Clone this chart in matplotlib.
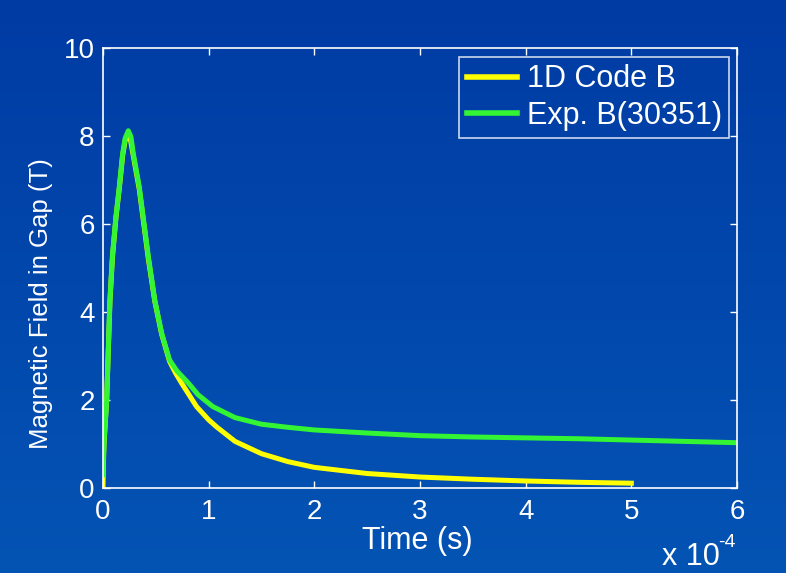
import numpy as np
import matplotlib
matplotlib.use("Agg")
import matplotlib.pyplot as plt
from matplotlib.colors import LinearSegmentedColormap

# ---- data (time in units of 1e-4 s) ----
t_code = [0.0, 0.003, 0.01, 0.035, 0.066, 0.09, 0.123, 0.155, 0.186, 0.21, 0.235, 0.26, 0.287,
          0.343, 0.38, 0.43, 0.49, 0.555, 0.63, 0.69, 0.745, 0.886, 1.0, 1.075, 1.25, 1.5, 1.75,
          2.0, 2.5, 3.0, 3.5, 4.0, 4.5, 5.0]
b_code = [0.0, 0.45, 1.0, 2.0, 4.25, 5.25, 6.15, 6.82, 7.55, 7.9, 8.02, 7.92, 7.55,
          6.8, 6.12, 5.2, 4.25, 3.5, 2.88, 2.6, 2.38, 1.85, 1.55, 1.39, 1.06, 0.78, 0.6,
          0.47, 0.33, 0.25, 0.2, 0.16, 0.13, 0.11]

t_exp = [0.0, 0.003, 0.01, 0.035, 0.066, 0.09, 0.123, 0.155, 0.186, 0.21, 0.24, 0.265, 0.287,
         0.343, 0.38, 0.43, 0.49, 0.555, 0.63, 0.7, 0.81, 0.9, 1.04, 1.25, 1.5, 1.75, 2.0,
         2.5, 3.0, 3.5, 4.0, 4.5, 5.0, 5.5, 6.0]
b_exp = [0.3, 0.6, 1.05, 2.0, 4.27, 5.3, 6.17, 6.85, 7.6, 7.95, 8.12, 7.98, 7.6,
         6.85, 6.17, 5.25, 4.27, 3.52, 2.91, 2.66, 2.38, 2.12, 1.85, 1.6, 1.45, 1.38, 1.32,
         1.25, 1.19, 1.16, 1.14, 1.12, 1.09, 1.06, 1.03]

xticks = [0, 1, 2, 3, 4, 5, 6]
yticks = [0, 2, 4, 6, 8, 10]

plt.rcParams['font.family'] = ['Liberation Sans', 'DejaVu Sans']

fig = plt.figure(figsize=(7.86, 5.73), dpi=100)

# background gradient
bg = fig.add_axes([0, 0, 1, 1], zorder=-10)
cmap = LinearSegmentedColormap.from_list('bg', ['#003ba4', '#0454b4'])
grad = np.linspace(0, 1, 256).reshape(-1, 1)
bg.imshow(grad, aspect='auto', cmap=cmap, extent=[0, 1, 0, 1], origin='upper')
bg.set_axis_off()

ax = fig.add_axes([0.131, 0.1483, 0.8067, 0.7679])
ax.patch.set_alpha(0)

ax.plot(t_code, b_code, color='#ffff00', lw=3.6, label='1D Code B')
ax.plot(t_exp, b_exp, color='#33f533', lw=3.6, label='Exp. B(30351)')

ax.set_xlim(0, 6)
ax.set_ylim(0, 10)
ax.set_xticks(xticks)
ax.set_yticks(yticks)
ax.tick_params(direction='in', length=5, width=1, colors='white', labelsize=20,
               top=True, right=True, pad=6)
ax.tick_params(axis='x', pad=8)
for s in ax.spines.values():
    s.set_color('white')
    s.set_linewidth(1.2)

ax.set_xlabel('Time (s)', color='white', fontsize=22)
ax.xaxis.set_label_coords(0.495, -0.086)
ax.set_ylabel('Magnetic Field in Gap (T)', color='white', fontsize=18.5)
ax.yaxis.set_label_coords(-0.079, 0.42)

fig.text(0.842, 0.014, 'x 10', color='white', fontsize=22, va='baseline')
fig.text(0.914, 0.046, '-4', color='white', fontsize=14, va='baseline')

leg = ax.legend(loc='upper right', fontsize=22, frameon=True, fancybox=False,
                handlelength=1.65, borderpad=0.25, labelspacing=0.2, handletextpad=0.3,
                bbox_to_anchor=(0.988, 0.98), borderaxespad=0)
leg.get_frame().set_facecolor('none')
leg.get_frame().set_edgecolor('white')
leg.get_frame().set_linewidth(1.2)
for txt in leg.get_texts():
    txt.set_color('white')
for line in leg.get_lines():
    line.set_linewidth(4.0)

fig.savefig('out.png', dpi=100)
